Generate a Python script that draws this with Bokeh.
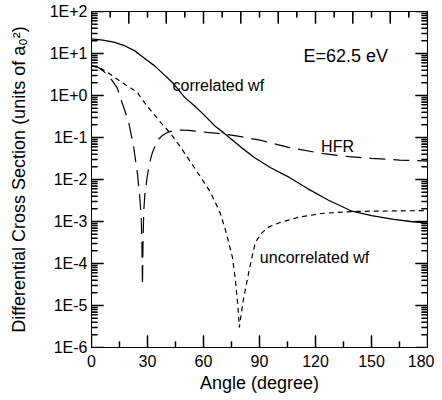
from bokeh.plotting import figure
from bokeh.models import Range1d, FixedTicker, LinearAxis, LogAxis, Label
from bokeh.embed import file_html
from bokeh.resources import INLINE

# ---- data ----
angle_corr = [0, 6, 12, 18, 23, 28, 34, 39, 44, 50, 55, 60, 66, 70, 73, 80, 87, 96,
              106, 116, 127, 139, 150, 162, 171, 180]
dcs_corr = [22.4, 20.9, 18.6, 15.1, 11.7, 7.9, 5.0, 3.1, 1.9, 0.89, 0.575, 0.355, 0.19,
            0.138, 0.107, 0.059, 0.034, 0.019, 0.0112, 0.006, 0.0032, 0.0018, 0.00138,
            0.00112, 0.001, 0.00091]

angle_hfr = [0, 4, 8, 11, 13.8, 16, 18, 20, 22.5, 24.6, 25.8, 26.6, 27.0, 27.3, 27.6,
             28.0, 28.6, 29.8, 31, 32.5, 35.2, 38, 40.6, 44, 47.6, 52, 56.7, 62, 67.4,
             74, 80, 91, 105.5, 123, 138, 150, 165, 180]
dcs_hfr = [5.13, 4.57, 3.31, 2.29, 1.51, 0.76, 0.417, 0.219, 0.063, 0.0138, 0.004,
           0.00138, 3.2e-4, 3.0e-5, 3.2e-4, 0.0018, 0.0045, 0.0112, 0.024, 0.042, 0.085,
           0.112, 0.132, 0.145, 0.151, 0.148, 0.141, 0.132, 0.126, 0.115, 0.105, 0.085,
           0.058, 0.042, 0.035, 0.032, 0.029, 0.0275]

angle_unc = [0, 5, 8.4, 12.9, 18.2, 24.5, 27.9, 32.5, 37, 42.3, 47.7, 53.9, 58.4, 63.7,
             66.4, 69, 71.8, 75.5, 77.1, 78.4, 79.2, 80.2, 81.4, 82.5, 85.2, 87.8, 91,
             94.3, 101, 111, 123, 141, 160, 180]
dcs_unc = [5.1, 4.4, 3.6, 2.6, 1.8, 1.2, 0.72, 0.40, 0.23, 0.126, 0.059, 0.023, 0.0115,
           0.005, 0.0028, 0.00155, 6.2e-4, 1.4e-4, 4.0e-5, 1.0e-5, 3.0e-6, 6.3e-6,
           1.4e-5, 2.5e-5, 1.0e-4, 3.2e-4, 5.2e-4, 7.2e-4, 9.5e-4, 1.26e-3, 1.55e-3,
           1.74e-3, 1.78e-3, 1.82e-3]

x_ticks = [0, 30, 60, 90, 120, 150, 180]
y_ticks = [1e-6, 1e-5, 1e-4, 1e-3, 1e-2, 1e-1, 1e0, 1e1, 1e2]
y_tick_labels = ["1E-6", "1E-5", "1E-4", "1E-3", "1E-2", "1E-1", "1E+0", "1E+1", "1E+2"]

FONT = "Liberation Sans"
X0, X1, Y0, Y1 = 0, 180, 1e-6, 1e2
FRAME = 336          # frame size in px (width 434-91-7, height 399-11-52)
DECADES = 8

p = figure(width=434, height=399, x_range=Range1d(X0, X1), y_range=Range1d(Y0, Y1),
           y_axis_type="log", output_backend="svg", toolbar_location=None,
           min_border_left=91, min_border_right=7, min_border_top=11, min_border_bottom=52)
p.grid.visible = False
p.outline_line_color = "black"
p.outline_line_width = 1
p.background_fill_color = "white"
p.border_fill_color = "white"

x_minor = [15, 45, 75, 105, 135, 165]
top_major = list(range(0, 181, 20))
top_minor = list(range(10, 181, 20))
y_minor = [m * 10.0 ** k for k in range(-6, 2) for m in range(2, 10)]

xa = p.xaxis[0]
xa.ticker = FixedTicker(ticks=x_ticks, minor_ticks=x_minor)
xa.axis_label = "Angle (degree)"
ya = p.yaxis[0]
ya.ticker = FixedTicker(ticks=y_ticks, minor_ticks=y_minor)
ya.major_label_overrides = dict(zip(y_ticks, y_tick_labels))
ya.axis_label = "Differential Cross Section (units of a\u2080\u00b2)"

top = LinearAxis(ticker=FixedTicker(ticks=top_major, minor_ticks=top_minor))
right = LogAxis(ticker=FixedTicker(ticks=y_ticks, minor_ticks=y_minor))

for ax in (xa, ya, top, right):
    ax.major_tick_in = 12
    ax.major_tick_out = 0
    ax.minor_tick_in = 6
    ax.minor_tick_out = 0
    ax.axis_line_color = "black"
    ax.major_tick_line_color = "black"
    ax.minor_tick_line_color = "black"
    ax.major_tick_line_width = 1
    ax.minor_tick_line_width = 1

for ax in (xa, ya):
    ax.major_label_text_font = FONT
    ax.major_label_text_font_size = "16px"
    ax.major_label_text_color = "black"
    ax.axis_label_text_font = FONT
    ax.axis_label_text_font_size = "18px"
    ax.axis_label_text_font_style = "normal"
    ax.axis_label_text_color = "black"
xa.major_label_standoff = 7
xa.axis_label_standoff = 3
ya.major_label_standoff = 4
ya.axis_label_standoff = 18

for ax in (top, right):
    ax.major_label_text_font_size = "1px"
    ax.major_label_text_color = None
    ax.major_label_standoff = 0
p.add_layout(top, "above")
p.add_layout(right, "right")

# inward tick marks also drawn as short polylines from each frame edge
tick_xs, tick_ys = [], []

def vticks(xs, y_edge, px, up):
    f = 10 ** (DECADES * px / FRAME)
    y_end = y_edge * f if up else y_edge / f
    for x in xs:
        tick_xs.append([x, x])
        tick_ys.append([y_edge, y_end])

def hticks(ys, x_edge, px, right_side):
    d = (X1 - X0) * px / FRAME
    x_end = x_edge - d if right_side else x_edge + d
    for y in ys:
        tick_xs.append([x_edge, x_end])
        tick_ys.append([y, y])

vticks(x_ticks, Y0, 12, True)
vticks(x_minor, Y0, 6, True)
vticks(top_major, Y1, 12, False)
vticks(top_minor, Y1, 6, False)
hticks(y_ticks, X0, 12, False)
hticks(y_minor, X0, 6, False)
hticks(y_ticks, X1, 12, True)
hticks(y_minor, X1, 6, True)

p.multi_line(tick_xs, tick_ys, line_color="black", line_width=1.5)

p.line(angle_corr, dcs_corr, line_color="black", line_width=1.3)
p.line(angle_hfr, dcs_hfr, line_color="black", line_width=1.2, line_dash="16 8")
p.line(angle_unc, dcs_unc, line_color="black", line_width=1.2, line_dash="5 4")

for txt, x, y, size in [("E=62.5 eV", 113.6, 8.5, "18px"),
                        ("correlated wf", 43.4, 1.74, "16px"),
                        ("HFR", 123, 0.061, "16px"),
                        ("uncorrelated wf", 90.2, 1.4e-4, "16px")]:
    p.add_layout(Label(x=x, y=y, text=txt, text_font=FONT, text_font_size=size,
                       text_baseline="middle", text_align="left", text_color="black"))

open("out.html", "w").write(file_html(p, INLINE))
